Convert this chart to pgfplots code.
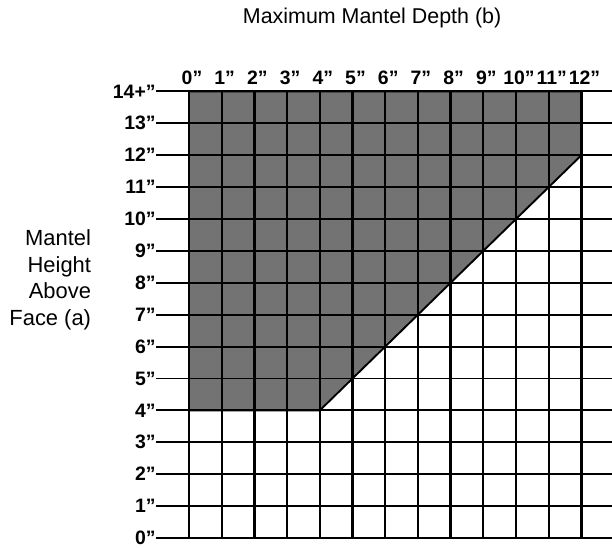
\documentclass[border=0pt]{standalone}
\usepackage{fontspec}
\setmainfont{Liberation Sans}
\usepackage{pgfplots}
\pgfplotsset{compat=1.18}
\begin{document}
\begin{tikzpicture}[x=1bp,y=1bp]
\useasboundingbox (0,0) rectangle (612,548);
\begin{axis}[
  anchor=origin, at={(189bp,10bp)},
  x=32.7bp, y=31.9bp,
  xmin=-1, xmax=12.94, ymin=0, ymax=14,
  axis line style={draw=none},
  xtick={0,...,12}, ytick={0,...,14},
  xticklabel pos=upper,
  xticklabels={0'',1'',2'',3'',4'',5'',6'',7'',8'',9'',10'',11'',12''},
  yticklabels={0'',1'',2'',3'',4'',5'',6'',7'',8'',9'',10'',11'',12'',13'',14+''},
  tick label style={font=\bfseries\fontsize{19.5}{19.5}\selectfont},
  yticklabel style={anchor=east, inner sep=0.5bp},
  xticklabel style={anchor=base, yshift=7bp, xshift=3bp, inner sep=0pt},
  major tick length=0pt,
  grid=major,
  major x grid style={black, line width=2.3bp},
  major y grid style={black, line width=1.9bp},
  axis on top,
  clip=false,
]
\addplot[fill=black!55, draw=black, line width=1.9bp] coordinates {(0,4) (4,4) (12,12) (12,14) (0,14)} -- cycle;
\node[font=\fontsize{21.5}{21.5}\selectfont] at (axis cs:5.6,16.3) {Maximum Mantel Depth (b)};
\node[anchor=east, align=right, font=\fontsize{22}{26.7}\selectfont, inner sep=0pt] at (axis cs:-2.99,8.09) {Mantel\\Height\\Above\\Face (a)};
\end{axis}
\end{tikzpicture}
\end{document}
